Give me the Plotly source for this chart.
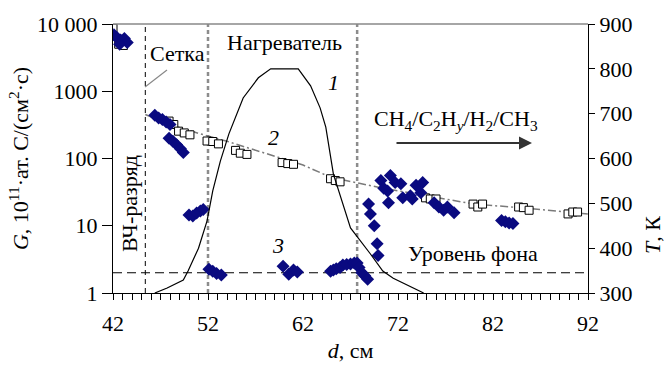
import plotly.graph_objects as go

# ---------------- data ----------------
# Curve 1: temperature profile T(d), right axis
curve1_d = [46.4, 47.7, 49.4, 49.9, 51.0, 51.9, 52.5, 53.3, 54.2, 55.0, 55.7, 57.3, 58.6,
            61.5, 62.8, 63.8, 64.4, 65.2, 67.0, 69.1, 70.4, 71.5, 73.0, 74.7]
curve1_T = [300, 311, 329, 349, 400, 461, 528, 594, 655, 700, 735, 780, 800,
            800, 762, 713, 670, 565, 445, 387, 349, 333, 318, 300]

# Curve 2: fitted line through squares (G, left axis)
line2_d = [45.4, 48, 51, 54, 58, 62, 65, 70.5, 75, 80, 85, 92]
line2_G = [450, 320, 237, 180, 120, 80, 52, 36, 28, 21, 18.5, 15]

# Squares (series 2)
sq_d = [42.0, 42.6, 43.1,
        47.9, 48.4, 48.9, 49.5, 50.1,
        51.9, 52.5, 53.1,
        54.9, 55.4, 56.1,
        59.8, 60.4, 61.0,
        64.9, 65.4, 65.9,
        74.9, 75.4, 76.0,
        79.9, 80.4, 80.9,
        84.7, 85.2, 85.8,
        89.9, 90.4, 90.9]
sq_G = [8700, 5000, 4800,
        360, 320, 255, 240, 225,
        182, 179, 165,
        132, 120, 115,
        87, 84, 82,
        50, 47, 45,
        26, 25, 25,
        21, 19, 21,
        19, 18.6, 17,
        15, 16, 16]

# Diamonds (series 3)
dm_d = [42.1, 42.4, 42.8, 43.2, 43.5, 42.7,
        46.4, 46.8, 47.2, 47.6, 48.0,
        47.9, 48.3, 48.7, 49.1, 49.4,
        50.0, 50.4, 50.8, 51.2, 51.5,
        52.1, 52.5, 52.9, 53.4,
        59.9, 60.5, 61.0, 61.4,
        64.9, 65.2, 65.5, 65.9, 66.2, 66.6, 67.0, 67.4, 67.7, 67.9, 68.2, 68.5, 68.8,
        68.9, 69.1, 69.5, 69.8, 69.9,
        70.2, 71.2, 71.7, 70.9, 71.0, 72.3, 72.5, 73.3, 73.5, 73.9, 74.6, 74.4,
        75.8, 76.3, 76.8, 77.2, 77.9, 70.5,
        82.9, 83.3, 83.7, 84.1]
dm_G = [6900, 6300, 5800, 6100, 5300, 5000,
        440, 400, 380, 350, 320,
        200, 180, 160, 140, 123,
        14.5, 14, 15.5, 16.5, 17.5,
        2.25, 2.1, 1.95, 1.85,
        2.5, 1.9, 2.2, 2.05,
        2.1, 2.2, 2.3, 2.4, 2.6, 2.65, 2.7, 2.8, 2.8, 2.4, 2.0, 1.8, 1.6,
        21, 15, 10, 5.4, 3.6,
        47, 56, 44, 33, 22, 42, 26, 28, 25, 40, 44, 31,
        22, 19, 17, 19, 15.6, 36,
        12, 11.5, 11, 10.8]

background_level = 2.0
grid_d = 45.4          # "Сетка" position
heater_d = [52.0, 67.7]  # heater boundaries

x_ticks = [42, 52, 62, 72, 82, 92]
g_ticks = [1, 10, 100, 1000, 10000]
g_ticktext = ["1", "10", "100", "1000", "10 000"]
t_ticks = [300, 400, 500, 600, 700, 800, 900]

FONT = "'Liberation Serif', 'Times New Roman', Times, serif"
FS = 22

fig = go.Figure()

# vertical lines
fig.add_trace(go.Scatter(x=[grid_d, grid_d], y=[1, 10000], mode="lines",
                         line=dict(color="black", width=1, dash="5px,4px"),
                         showlegend=False, hoverinfo="skip"))
for hd in heater_d:
    fig.add_trace(go.Scatter(x=[hd, hd], y=[1, 10000], mode="lines",
                             line=dict(color="#8c8c8c", width=2.5, dash="4px,3px"),
                             showlegend=False, hoverinfo="skip"))
# background level
fig.add_trace(go.Scatter(x=[42, 92], y=[background_level, background_level], mode="lines",
                         line=dict(color="black", width=1.2, dash="9px,5px"),
                         showlegend=False, hoverinfo="skip"))

# curve 1 on T axis
fig.add_trace(go.Scatter(x=curve1_d, y=curve1_T, yaxis="y2", mode="lines",
                         line=dict(color="black", width=1.2), showlegend=False))

# line 2
fig.add_trace(go.Scatter(x=line2_d, y=line2_G, mode="lines",
                         line=dict(color="#7a7a7a", width=1.5, dash="8px,3px,2px,3px"),
                         showlegend=False))
# squares
fig.add_trace(go.Scatter(x=sq_d, y=sq_G, mode="markers",
                         marker=dict(symbol="square", size=8, color="white",
                                     line=dict(width=1, color="black")),
                         showlegend=False))
# diamonds
fig.add_trace(go.Scatter(x=dm_d, y=dm_G, mode="markers",
                         marker=dict(symbol="diamond", size=10, color="#0a0a80"),
                         showlegend=False))

L, R, T, B = 113, 78, 24, 72
W, H = 666, 365
pw, ph = W - L - R, H - T - B


def px(x):
    return (x - L) / pw


def py(y):
    return (H - B - y) / ph


ann = []
tf = dict(family=FONT, size=FS, color="black")
ann.append(dict(x=px(177), y=py(53), text="Сетка"))
ann.append(dict(x=px(284), y=py(42), text="Нагреватель"))
ann.append(dict(x=px(333), y=py(82), text="<i>1</i>"))
ann.append(dict(x=px(273), y=py(137), text="<i>2</i>"))
ann.append(dict(x=px(278), y=py(245), text="<i>3</i>"))
ann.append(dict(x=px(456), y=py(120),
                text="CH<sub>4</sub>/C<sub>2</sub>H<sub><i>y</i></sub>/H<sub>2</sub>/CH<sub>3</sub>"))
ann.append(dict(x=px(473), y=py(253), text="Уровень фона"))
ann.append(dict(x=px(130), y=py(204), text="ВЧ-разряд", textangle=-90))
ann.append(dict(x=px(652), y=py(235), text="<i>T</i>, К", textangle=-90))
for a in ann:
    a.update(xref="paper", yref="paper", showarrow=False, font=tf,
             xanchor="center", yanchor="middle")
# arrow
ann.append(dict(xref="x domain", yref="y domain", axref="x domain", ayref="y domain",
                x=px(532), y=py(143), ax=px(395), ay=py(143), text="",
                showarrow=True, arrowhead=2, arrowsize=1.3, arrowwidth=2, arrowcolor="#333"))

shapes = [
    dict(type="line", xref="paper", yref="paper", x0=0, x1=1, y0=1, y1=1,
         line=dict(color="#888", width=1.5)),
    dict(type="line", xref="paper", yref="paper", x0=px(145), y0=py(87), x1=px(167), y1=py(70),
         line=dict(color="#888", width=1.2)),
]

common = dict(showgrid=False, zeroline=False)
fig.update_layout(
    width=W, height=H,
    margin=dict(l=L, r=R, t=T, b=B, autoexpand=False),
    paper_bgcolor="white", plot_bgcolor="white",
    font=dict(family=FONT, size=FS, color="black"),
    annotations=ann, shapes=shapes,
    xaxis=dict(range=[42, 92], tickvals=x_ticks, **common,
               showline=True, linecolor="black", linewidth=1.2,
               ticks="outside", ticklen=6, tickcolor="black", tickwidth=1.2,
               minor=dict(dtick=1, tick0=42, ticks="outside", ticklen=6, tickcolor="black", tickwidth=1),
               ticklabelstandoff=4, tickfont=tf,
               title=dict(text="<i>d</i>, см", font=tf, standoff=8)),
    xaxis2=dict(range=[42, 92], tickvals=x_ticks, overlaying="x", anchor="y", side="bottom",
                **common, showline=False, showticklabels=False,
                ticks="inside", ticklen=5, tickcolor="black", tickwidth=1.2),
    yaxis=dict(type="log", range=[0, 4], tickvals=g_ticks, ticktext=g_ticktext, **common,
               showline=True, linecolor="black", linewidth=1.2,
               ticks="outside", ticklen=10, tickcolor="black", tickwidth=1.2, tickfont=tf,
               title=dict(text="<i>G</i>, 10<sup>11</sup>·ат. C/(см<sup>2</sup>·с)", font=tf, standoff=2)),
    yaxis2=dict(range=[300, 900], tickvals=t_ticks, overlaying="y", side="right", anchor="x",
                **common, showline=True, linecolor="black", linewidth=1.2,
                ticks="outside", ticklen=6, tickcolor="black", tickwidth=1.2, tickfont=tf),
    yaxis3=dict(type="log", range=[0, 4], tickvals=g_ticks, overlaying="y", side="left", anchor="x",
                **common, showline=False, showticklabels=False,
                ticks="inside", ticklen=3, tickcolor="black", tickwidth=1.2),
    yaxis4=dict(range=[300, 900], tickvals=t_ticks, overlaying="y", side="right", anchor="x",
                **common, showline=False, showticklabels=False,
                ticks="inside", ticklen=5, tickcolor="black", tickwidth=1.2),
)

fig.write_html("out.html")
